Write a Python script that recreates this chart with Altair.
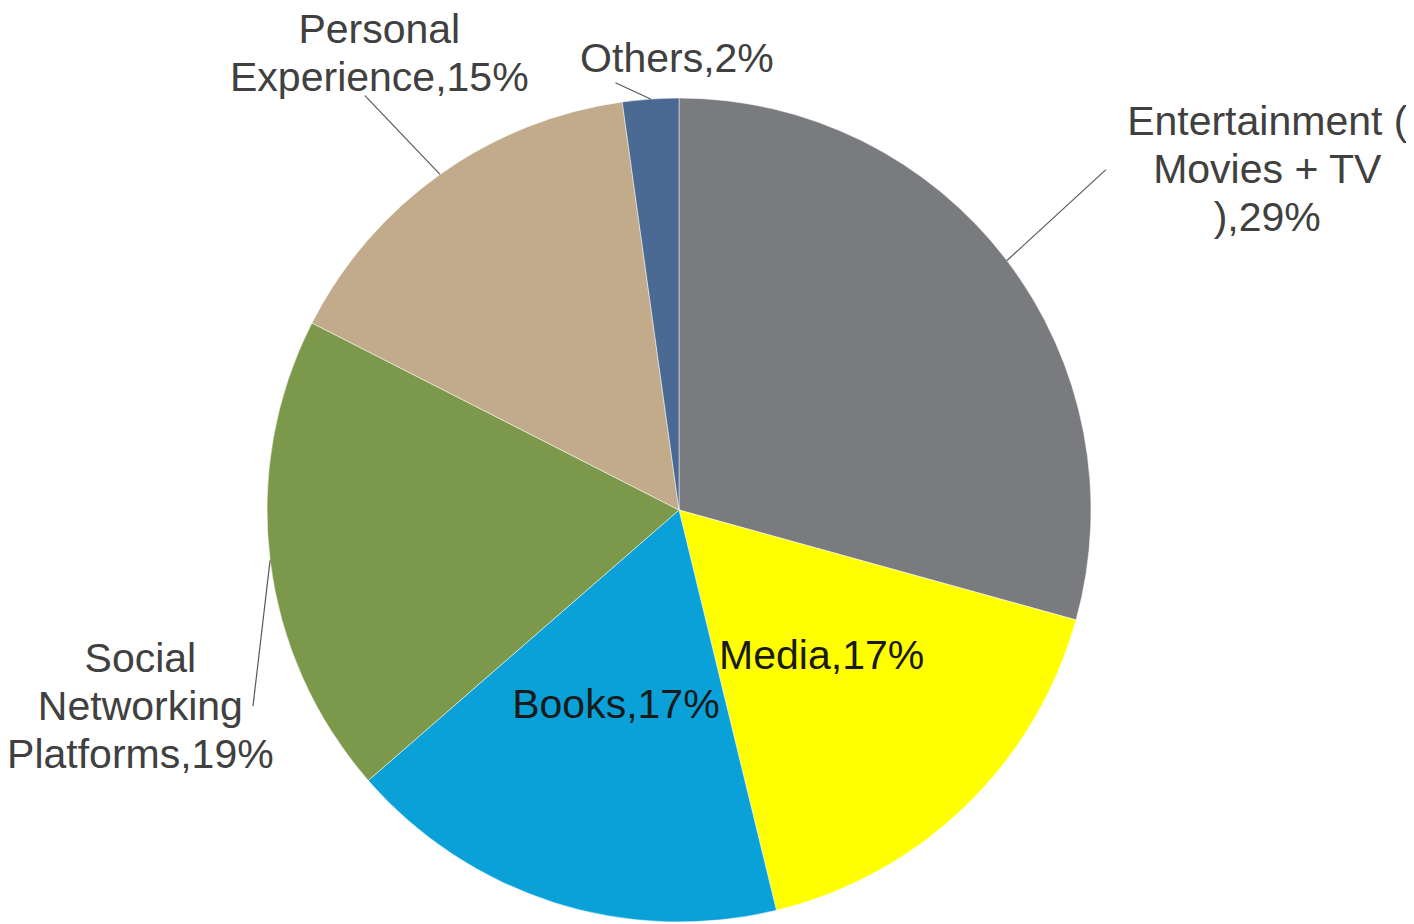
import altair as alt
import pandas as pd

# ---- data ----
categories = ["Entertainment (\nMovies + TV\n)", "Media", "Books",
              "Social\nNetworking\nPlatforms", "Personal\nExperience", "Others"]
shares = [29.3, 16.9, 17.4, 18.9, 15.3, 2.2]
colors = ["#7a7b7f", "#ffff00", "#0aa1d9", "#7c984a", "#c2ab8b", "#4a6a93"]

# ---- layout (polar placement of labels / leader lines, relative to slice mid-angle) ----
CX, CY, R = 671, 502, 412
LINE_H = 48
label_radius = [679, 205, 206, 574, 545, 450]
label_shift = [7.3, 0.0, 0.2, -13.2, 2.1, 3.7]
leader_radius = [546, 0, 0, 469, 520, 432]
leader_shift = [-1.3, 0.0, 0.0, -17.7, -1.7, -4.5]
inside = [False, True, True, False, False, False]

df = pd.DataFrame({
    "idx": list(range(len(categories))),
    "cat": categories,
    "value": shares,
    "label": [f"{c},{round(v)}%" for c, v in zip(categories, shares)],
    "lr": label_radius,
    "ls": label_shift,
    "er": leader_radius,
    "es": leader_shift,
    "inside": inside,
})

base = alt.Chart(df)

arcs = base.mark_arc(radius=R, stroke="#ffffff", strokeWidth=0.5).encode(
    theta=alt.Theta("value:Q", stack=True),
    color=alt.Color("cat:N", scale=alt.Scale(domain=categories, range=colors), legend=None),
    order=alt.Order("idx:Q"),
    x=alt.value(CX),
    y=alt.value(CY),
)

geo = base.transform_window(
    cum="sum(value)", sort=[alt.SortField("idx")], frame=[None, 0]
).transform_joinaggregate(
    total="sum(value)"
).transform_calculate(
    mid="(datum.cum - datum.value/2) / datum.total * 2 * PI",
    nl="length(split(datum.label, '\\n'))",
).transform_calculate(
    la="datum.mid + datum.ls * PI / 180",
    ea="datum.mid + datum.es * PI / 180",
).transform_calculate(
    lx=f"{CX} + datum.lr * sin(datum.la)",
    ly=f"{CY} - datum.lr * cos(datum.la) - (datum.nl - 1) * {LINE_H} / 2",
    sx=f"{CX} + {R} * sin(datum.mid)",
    sy=f"{CY} - {R} * cos(datum.mid)",
    ex=f"{CX} + datum.er * sin(datum.ea)",
    ey=f"{CY} - datum.er * cos(datum.ea)",
)

rules = geo.transform_filter("!datum.inside").mark_rule(
    color="#595959", strokeWidth=1.2
).encode(
    x=alt.X("sx:Q", scale=None), y=alt.Y("sy:Q", scale=None),
    x2="ex:Q", y2="ey:Q",
)

text_out = geo.transform_filter("!datum.inside").mark_text(
    font="Liberation Sans", fontSize=41, lineHeight=LINE_H, lineBreak="\n",
    align="center", baseline="middle", color="#404040",
).encode(
    x=alt.X("lx:Q", scale=None), y=alt.Y("ly:Q", scale=None), text="label:N",
)

text_in = geo.transform_filter("datum.inside").mark_text(
    font="Liberation Sans", fontSize=41, lineHeight=LINE_H, lineBreak="\n",
    align="center", baseline="middle", color="#1a1a1a",
).encode(
    x=alt.X("lx:Q", scale=None), y=alt.Y("ly:Q", scale=None), text="label:N",
)

chart = alt.layer(arcs, rules, text_out, text_in).properties(
    width=1398, height=916, padding=0, autosize="none"
).configure_view(stroke=None)

chart.save("out.html", embed_options={"renderer": "svg", "actions": False})
